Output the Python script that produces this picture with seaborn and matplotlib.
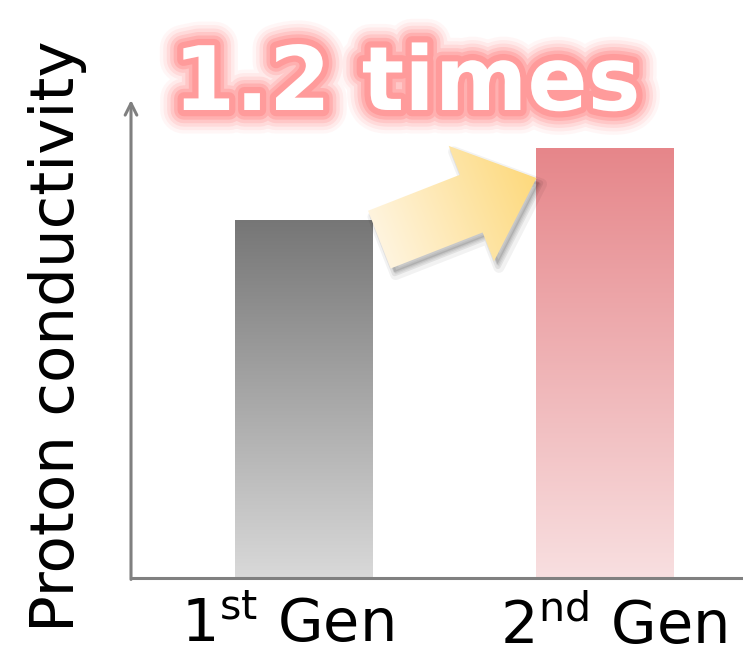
import numpy as np
import pandas as pd
import matplotlib
matplotlib.use("Agg")
import matplotlib.pyplot as plt
import matplotlib.transforms as mtransforms
import seaborn as sns
from matplotlib import patheffects as pe
from matplotlib.patches import Polygon
from matplotlib.colors import LinearSegmentedColormap

# ---- data -------------------------------------------------------------
generations = ["1st Gen", "2nd Gen"]
tick_labels = [r"1$^{\mathrm{st}}$ Gen", r"2$^{\mathrm{nd}}$ Gen"]
conductivity = [1.0, 1.2]
bar_top_colors = ["#767676", "#e6868a"]
bar_bottom_colors = ["#d9d9d9", "#f8dfe0"]
ratio_label = "1.2 times"
axis_label = "Proton conductivity"

# ---- style ------------------------------------------------------------
sns.set_theme(style="white")
plt.rcParams["font.family"] = ["DejaVu Sans"]
plt.rcParams["mathtext.fontset"] = "custom"
plt.rcParams["mathtext.rm"] = "DejaVu Sans"

W, H = 743, 656
fig = plt.figure(figsize=(W / 100, H / 100), dpi=100)
fig.patch.set_facecolor("white")
ax = fig.add_axes([131 / W, 78 / H, 612 / W, 478 / H])

df = pd.DataFrame({"generation": generations, "conductivity": conductivity})
sns.barplot(data=df, x="generation", y="conductivity", ax=ax,
            width=0.458, color="#999999", saturation=1, errorbar=None)
ax.set_xlim(-0.575, 1.458)
ax.set_ylim(0, 1.335)

# vertical colour gradients inside each bar
for patch, c_top, c_bot in zip(ax.patches, bar_top_colors, bar_bottom_colors):
    x0, y0 = patch.get_x(), patch.get_y()
    w, h = patch.get_width(), patch.get_height()
    cmap = LinearSegmentedColormap.from_list("g", [c_bot, c_top])
    grad = np.linspace(0, 1, 256).reshape(-1, 1)
    im = ax.imshow(grad, cmap=cmap, extent=[x0, x0 + w, y0, y0 + h],
                   origin="lower", aspect="auto", interpolation="bicubic",
                   zorder=2)
    im.set_clip_path(patch)
    patch.set_facecolor("none")
    patch.set_edgecolor("none")

# axes: bottom line plus an arrow-headed y axis
axis_grey = "#808080"
for side in ["top", "right", "left"]:
    ax.spines[side].set_visible(False)
ax.spines["bottom"].set_color(axis_grey)
ax.spines["bottom"].set_linewidth(2.2)
ax.annotate("", xy=(0, 1.0), xytext=(0, -0.003), xycoords="axes fraction",
            arrowprops=dict(arrowstyle="->,head_length=0.7,head_width=0.35",
                            color=axis_grey, lw=2.2, shrinkA=0, shrinkB=0),
            annotation_clip=False)

ax.set_yticks([])
ax.set_xticks([0, 1], tick_labels, fontsize=42.5, color="black")
ax.tick_params(axis="x", length=0, pad=14)
for lbl, dx in zip(ax.get_xticklabels(), [-17, 8]):
    lbl.set_transform(lbl.get_transform() +
                      mtransforms.ScaledTranslation(dx / 100, 0, fig.dpi_scale_trans))
ax.set_xlabel("")
ax.set_ylabel(axis_label, fontsize=44, color="black")
ax.yaxis.set_label_coords(-0.072, 0.505)

# ---- growth arrow between the bar tops ------------------------------------
ov = fig.add_axes([0, 0, 1, 1], zorder=5)
ov.set_xlim(0, W)
ov.set_ylim(0, H)
ov.axis("off")
ov.patch.set_alpha(0)

fig.canvas.draw()
tail = np.array(ax.transData.transform((0.25, 0.945)))
tip = np.array(ax.transData.transform((0.772, 1.117)))
u = (tip - tail) / np.linalg.norm(tip - tail)
v = np.array([-u[1], u[0]])
L = np.linalg.norm(tip - tail)
head_len, body_hw, head_hw = 70, 31, 62
local = [(0, -body_hw), (L - head_len, -body_hw), (L - head_len, -head_hw),
         (L, 0), (L - head_len, head_hw), (L - head_len, body_hw), (0, body_hw)]
pts = np.array([tail + a * u + b * v for a, b in local])

# soft drop shadow
for off, alpha, lw in [((5, -6), 0.05, 8), ((4, -5), 0.07, 4), ((3, -4), 0.1, 0)]:
    ov.add_patch(Polygon(pts + np.array(off), closed=True, facecolor="black",
                         edgecolor="black", alpha=alpha, lw=lw,
                         joinstyle="round", zorder=1))

arrow_poly = Polygon(pts, closed=True, facecolor="none", edgecolor="none",
                     zorder=2)
ov.add_patch(arrow_poly)
xmin, ymin = pts.min(axis=0) - 2
xmax, ymax = pts.max(axis=0) + 2
gx, gy = np.meshgrid(np.linspace(xmin, xmax, 200), np.linspace(ymin, ymax, 200))
t = np.clip(((gx - tail[0]) * u[0] + (gy - tail[1]) * u[1]) / L, 0, 1)
arrow_cmap = LinearSegmentedColormap.from_list("a", ["#fff4de", "#fdd97c"])
aim = ov.imshow(t, cmap=arrow_cmap, extent=[xmin, xmax, ymin, ymax],
                origin="lower", aspect="auto", interpolation="bilinear",
                zorder=3)
aim.set_clip_path(arrow_poly)

# ---- glowing headline ---------------------------------------------------
glow = [pe.Stroke(linewidth=w, foreground="#ff9696", alpha=a)
        for w, a in [(34, 0.08), (29, 0.12), (24, 0.18), (19, 0.28),
                     (14, 0.45), (9, 0.8)]]
fig.text(407 / W, (H - 110) / H, ratio_label, ha="center", va="baseline",
         fontsize=64, fontweight="bold", color="white",
         path_effects=glow + [pe.Normal()], zorder=10)

fig.savefig("out.png", dpi=100, facecolor="white")
